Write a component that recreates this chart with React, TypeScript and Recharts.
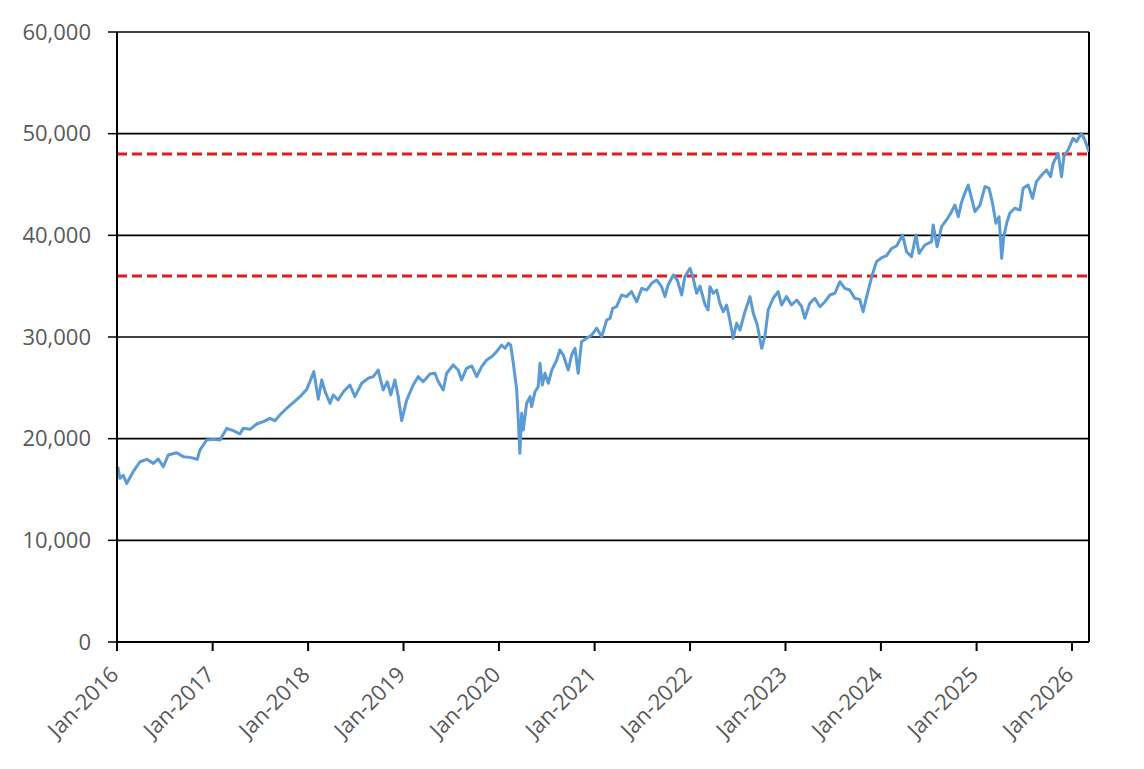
import React from 'react';
import { LineChart, Line, XAxis, YAxis, CartesianGrid, ReferenceLine } from 'recharts';

const dates: string[] = [
  '2016-01-04','2016-01-12','2016-01-25','2016-02-07','2016-03-03','2016-03-29','2016-04-24','2016-05-19','2016-06-07','2016-06-26',
  '2016-07-15','2016-08-16','2016-09-11','2016-10-06','2016-11-03','2016-11-13','2016-12-09','2017-01-03','2017-01-29','2017-02-24',
  '2017-03-21','2017-04-15','2017-04-28','2017-05-24','2017-06-18','2017-07-14','2017-08-08','2017-08-27','2017-09-15','2017-10-11',
  '2017-11-05','2017-12-01','2017-12-27','2018-01-23','2018-02-09','2018-02-22','2018-03-07','2018-03-26','2018-04-07','2018-04-26',
  '2018-05-16','2018-06-10','2018-06-29','2018-07-25','2018-08-19','2018-09-07','2018-09-26','2018-10-15','2018-10-31','2018-11-13',
  '2018-11-29','2018-12-12','2018-12-25','2019-01-13','2019-02-07','2019-02-26','2019-03-17','2019-04-12','2019-05-01','2019-05-14',
  '2019-06-02','2019-06-15','2019-07-10','2019-07-29','2019-08-11','2019-08-30','2019-09-19','2019-10-08','2019-10-27','2019-11-15',
  '2019-12-04','2019-12-23','2020-01-11','2020-01-24','2020-02-06','2020-02-15','2020-02-25','2020-03-09','2020-03-15','2020-03-21',
  '2020-03-28','2020-04-03','2020-04-16','2020-04-29','2020-05-05','2020-05-18','2020-05-30','2020-06-06','2020-06-15','2020-06-25',
  '2020-07-08','2020-07-21','2020-08-09','2020-08-21','2020-09-03','2020-09-22','2020-10-05','2020-10-18','2020-10-30','2020-11-12',
  '2020-12-01','2020-12-21','2021-01-09','2021-01-28','2021-02-16','2021-03-01','2021-03-11','2021-03-26','2021-04-14','2021-05-03',
  '2021-05-22','2021-06-11','2021-06-30','2021-07-19','2021-08-07','2021-08-26','2021-09-14','2021-09-27','2021-10-09','2021-10-29',
  '2021-11-13','2021-11-30','2021-12-12','2022-01-01','2022-01-13','2022-01-26','2022-02-08','2022-02-27','2022-03-11','2022-03-18',
  '2022-03-31','2022-04-13','2022-04-25','2022-05-08','2022-05-21','2022-06-02','2022-06-15','2022-06-28','2022-07-11','2022-07-30',
  '2022-08-18','2022-08-31','2022-09-15','2022-10-02','2022-10-14','2022-10-27','2022-11-15','2022-12-04','2022-12-17','2023-01-05',
  '2023-01-24','2023-02-13','2023-03-04','2023-03-16','2023-04-04','2023-04-23','2023-05-13','2023-06-01','2023-06-20','2023-07-09',
  '2023-07-28','2023-08-16','2023-09-04','2023-09-23','2023-10-12','2023-10-25','2023-11-07','2023-11-26','2023-12-15','2024-01-04',
  '2024-01-23','2024-02-11','2024-03-01','2024-03-24','2024-04-08','2024-04-27','2024-05-14','2024-05-26','2024-06-17','2024-07-13',
  '2024-07-19','2024-08-03','2024-08-20','2024-09-08','2024-09-24','2024-10-10','2024-10-23','2024-11-05','2024-11-17','2024-11-30',
  '2024-12-13','2024-12-26','2025-01-14','2025-02-02','2025-02-18','2025-03-03','2025-03-16','2025-03-28','2025-04-07','2025-04-15',
  '2025-04-26','2025-05-08','2025-05-27','2025-06-16','2025-06-28','2025-07-17','2025-08-03','2025-08-18','2025-09-07','2025-09-26',
  '2025-10-11','2025-10-21','2025-11-09','2025-11-22','2025-12-01','2025-12-17','2026-01-05','2026-01-18','2026-02-06','2026-02-19',
  '2026-03-07',
];

const values: number[] = [
  17240,16100,16400,15600,16750,17730,17970,17570,18000,17240,
  18390,18620,18230,18160,17970,18880,19870,19930,19870,21020,
  20790,20460,21020,20920,21440,21670,22000,21770,22330,22990,
  23540,24130,24860,26590,23870,25770,24620,23480,24300,23800,
  24620,25280,24130,25450,25940,26100,26750,24790,25600,24300,
  25770,24130,21770,23800,25280,26100,25600,26360,26430,25600,
  24790,26430,27250,26750,25770,26920,27150,26100,27080,27740,
  28060,28560,29210,28890,29380,29210,27410,24790,21840,18560,
  22500,20850,23480,24130,23140,24620,25110,27410,25280,26430,
  25450,26750,27740,28720,28230,26750,28230,28890,26430,29540,
  29870,30200,30860,30030,31670,31840,32820,32980,34130,33970,
  34460,33470,34790,34620,35280,35610,34950,33970,35120,36100,
  35610,34130,35930,36750,35770,34300,35000,33200,32660,34950,
  34300,34620,33310,32490,33150,31670,29870,31350,30690,32490,
  33970,32330,31180,28890,30030,32660,33810,34460,33150,33970,
  33150,33640,32980,31840,33310,33810,32980,33470,34130,34300,
  35440,34790,34620,33810,33700,32490,33900,35850,37410,37800,
  38000,38720,38950,40030,38390,37900,40030,38230,39050,39380,
  41020,38880,40850,41510,42170,42980,41830,43310,44130,44950,
  43640,42330,42980,44790,44620,43150,41180,41830,37740,39870,
  41180,42170,42660,42490,44620,44950,43640,45280,45930,46430,
  45770,47090,48070,45770,47740,48390,49540,49210,50030,49380,
  48230,
];

const tickDates: string[] = [
  '2016-01-01','2017-01-01','2018-01-01','2019-01-01','2020-01-01','2021-01-01',
  '2022-01-01','2023-01-01','2024-01-01','2025-01-01','2026-01-01',
];
const tickLabels: string[] = [
  'Jan-2016','Jan-2017','Jan-2018','Jan-2019','Jan-2020','Jan-2021',
  'Jan-2022','Jan-2023','Jan-2024','Jan-2025','Jan-2026',
];
const yTicks: number[] = [0, 10000, 20000, 30000, 40000, 50000, 60000];
const bandLevels: number[] = [48000, 36000];

const toTs = (s: string) => {
  const [y, m, d] = s.split('-').map(Number);
  return Date.UTC(y, m - 1, d);
};

const data = dates.map((d, i) => ({ t: toTs(d), v: values[i] }));
const tickTimes = tickDates.map(toTs);
const startTs = tickTimes[0];
const endTs = toTs(dates[dates.length - 1]);

const FONT = "'Open Sans', sans-serif";
const LABEL = '#595959';

const XTick = (props: any) => {
  const { x, y, payload } = props;
  const i = tickTimes.indexOf(payload.value);
  return (
    <g transform={`translate(${x + 3},${y + 25})`}>
      <text textAnchor="end" transform="rotate(-45)" fill={LABEL} fontSize={22} fontFamily={FONT}>
        {tickLabels[i]}
      </text>
    </g>
  );
};

export default function App() {
  return (
    <div style={{ position: 'absolute', left: 0, top: 0, background: '#fff' }}>
      <LineChart width={1144} height={769} data={data} margin={{ top: 32, right: 55, bottom: 0, left: 0 }}>
        <CartesianGrid vertical={false} stroke="#000" strokeWidth={1.6} />
        <XAxis
          dataKey="t"
          type="number"
          domain={[startTs, endTs]}
          allowDataOverflow
          ticks={tickTimes}
          tick={<XTick />}
          tickSize={9}
          tickMargin={0}
          height={127}
          interval={0}
          axisLine={{ stroke: '#000', strokeWidth: 2 }}
          tickLine={{ stroke: '#000', strokeWidth: 2 }}
        />
        <YAxis
          type="number"
          domain={[0, 60000]}
          ticks={yTicks}
          interval={0}
          width={117}
          tickSize={9}
          tickMargin={17}
          tickFormatter={(v: number) => v.toLocaleString('en-US')}
          tick={{ fill: LABEL, fontSize: 22, fontFamily: FONT }}
          axisLine={{ stroke: '#000', strokeWidth: 2 }}
          tickLine={{ stroke: '#000', strokeWidth: 1.5 }}
        />
        <ReferenceLine x={endTs} stroke="#000" strokeWidth={2} />
        {bandLevels.map((lv) => (
          <ReferenceLine key={lv} y={lv} stroke="#E41B1B" strokeWidth={3} strokeDasharray="10 5" />
        ))}
        <Line
          type="linear"
          dataKey="v"
          stroke="#5B9BD5"
          strokeWidth={3}
          strokeLinejoin="round"
          dot={false}
          isAnimationActive={false}
        />
      </LineChart>
    </div>
  );
}
